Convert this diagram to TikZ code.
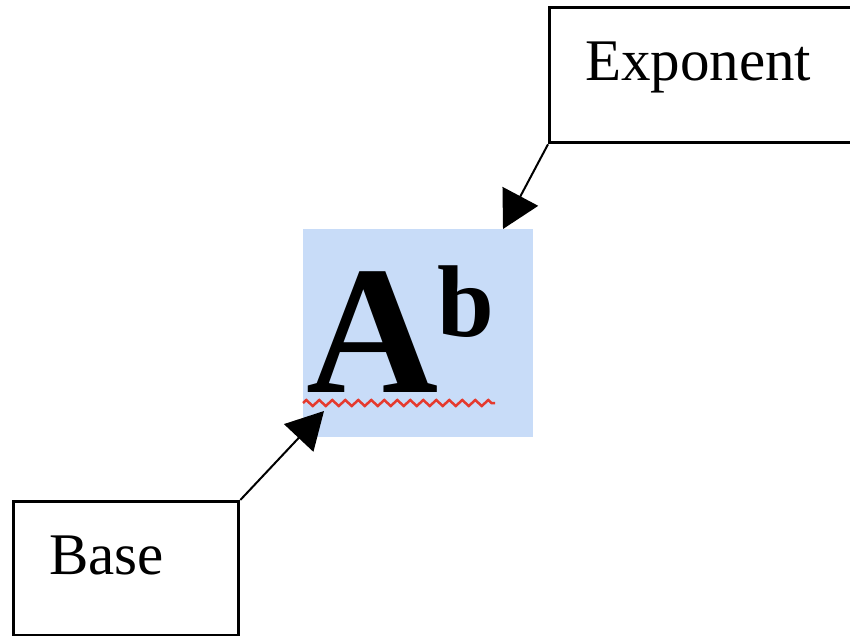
\documentclass[tikz,border=0pt]{standalone}
\usepackage{fontspec}
\setmainfont{Liberation Serif}
\usetikzlibrary{arrows.meta,decorations.pathmorphing,positioning}
\definecolor{SelBlue}{HTML}{C8DCF8}
\definecolor{SpellRed}{HTML}{E53A2E}

\begin{document}
\begin{tikzpicture}[
      x=1pt,y=-1pt,
      box/.style={draw,line width=3.3pt,inner sep=0pt},
      lbl/.style={inner sep=0pt,font=\fontsize{59}{59}\selectfont},
      ptr/.style={line width=2pt,-{Triangle[length=37pt,width=40pt]}},
      squig/.style={draw=SpellRed,line width=2.5pt,decorate,
        decoration={zigzag,segment length=13pt,amplitude=3pt}}
    ]
      \useasboundingbox (0,0) rectangle (850,635);
      % selected power
      \node[fill=SelBlue,inner sep=0pt,minimum width=230pt,minimum height=208pt,anchor=north west] (hl) at (303,229) {};
      \node[inner sep=0pt,anchor=base west,font=\fontsize{183}{183}\selectfont\bfseries] (bigA) at (306,392) {A};
      \node[inner sep=0pt,anchor=base west,font=\fontsize{102}{102}\selectfont\bfseries] (supb) at (437,336) {b};
      \coordinate (sq1) at (303,403);
      \coordinate (sq2) at (495,403);
      \draw[squig] (sq1) -- (sq2);
      % callout boxes
      \node[box,minimum width=330pt,minimum height=135pt,anchor=north west] (exp) at (548,6) {};
      \node[lbl,anchor=base west] (explbl) at (585,80) {Exponent};
      \node[box,minimum width=225pt,minimum height=134pt,anchor=north west] (base) at (12,500) {};
      \node[lbl,anchor=base west] (baselbl) at (49,574) {Base};
      % pointers
      \coordinate (exptip) at (503,229);
      \coordinate (basetip) at (324,411);
      \draw[ptr] (exp.south west) -- (exptip);
      \draw[ptr] (base.north east) -- (basetip);
    \end{tikzpicture}
\end{document}
